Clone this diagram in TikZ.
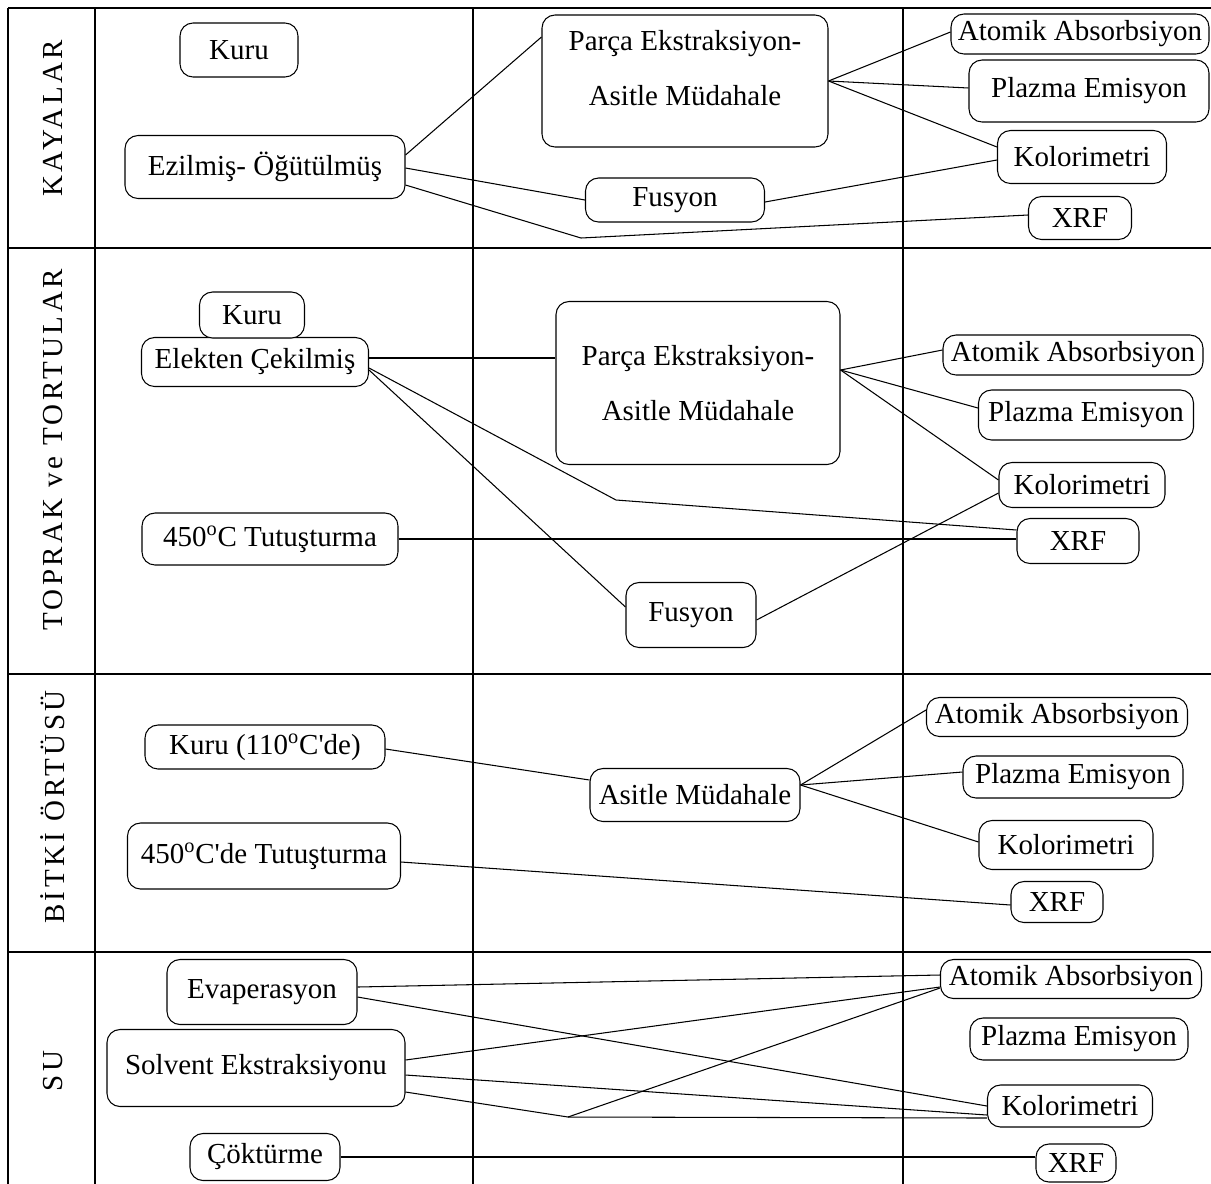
\documentclass[tikz,border=0pt]{standalone}
\usepackage{fontspec}
\setmainfont{Liberation Serif}
\newfontfamily\spacedfont[LetterSpace=12]{Liberation Serif}
\usetikzlibrary{calc}

\begin{document}
\begin{tikzpicture}[x=0.2mm, y=-0.2mm,
  grid/.style={line width=1.4pt},
  link/.style={line width=0.6pt},
  box/.style={draw, line width=0.6pt, rounded corners=2.6mm, fill=white,
    inner sep=0pt, font=\fontsize{16.5}{20}\selectfont},
  wh/.style 2 args={minimum width=#1*0.2mm, minimum height=#2*0.2mm},
  rowlabel/.style={rotate=90, font=\spacedfont\fontsize{16.5}{20}\selectfont}]

\useasboundingbox (0,0) rectangle (1211,1183);
\clip (0,0) rectangle (1211,1183);

% table
\foreach \y in {8, 248, 674, 952}
  \draw[grid] (8,\y) -- (1220,\y);
\foreach \x in {8, 95, 473, 903}
  \draw[grid] (\x,8) -- (\x,1190);

\node[rowlabel] (kayalar) at (53,118)  {KAYALAR};
\node[rowlabel] (toprak)  at (53,450)  {TOPRAK ve TORTULAR};
\node[rowlabel] (bitki)   at (53,807)  {BİTKİ ÖRTÜSÜ};
\node[rowlabel] (su)      at (53,1071) {SU};

% kayalar
\node[box, wh={118}{54}]  (k1kuru) at (239,50)  {Kuru};
\node[box, wh={280}{63}]  (k1ezil) at (265,167) {Ezilmiş- Öğütülmüş};
\node[box, wh={286}{132}, align=center, font=\fontsize{16.5}{31}\selectfont]
  (k1parca) at (685,81) {Parça Ekstraksiyon-\\Asitle Müdahale\rule[-15pt]{0pt}{0pt}};
\node[box, wh={179}{44}]  (k1fus)  at (675,200)  {Fusyon};
\node[box, wh={258}{40}]  (k1aas)  at (1080,34)  {Atomik Absorbsiyon};
\node[box, wh={240}{62}]  (k1pla)  at (1089,91)  {Plazma Emisyon};
\node[box, wh={169}{53}]  (k1kol)  at (1082,157) {Kolorimetri};
\node[box, wh={103}{43}]  (k1xrf)  at (1080,218) {XRF};

\coordinate (k1bend) at (581,238);
\draw[link] ($(k1ezil.east)+(0,-12)$) -- ($(k1parca.west)+(0,-44)$);
\draw[link] ($(k1ezil.east)+(0,1)$) -- (k1fus.west);
\draw[link] ($(k1ezil.east)+(0,18)$) -- (k1bend) -- ($(k1xrf.west)+(0,-3)$);
\draw[link] (k1parca.east) -- ($(k1aas.west)+(0,-2)$);
\draw[link] (k1parca.east) -- ($(k1pla.west)+(0,-3)$);
\draw[link] (k1parca.east) -- ($(k1kol.west)+(0,-10)$);
\draw[link] ($(k1fus.east)+(0,2)$) -- ($(k1kol.west)+(0,3)$);

% toprak ve tortular
\node[box, wh={227}{49}]  (t2elek) at (255,362) {Elekten Çekilmiş};
\node[box, wh={105}{46}]  (t2kuru) at (252,315) {Kuru};
\node[box, wh={256}{52}]  (t2tut)  at (270,539) {450\textsuperscript{o}C Tutuşturma};
\node[box, wh={284}{163}, align=center, font=\fontsize{16.5}{31}\selectfont]
  (t2parca) at (698,383) {Parça Ekstraksiyon-\\Asitle Müdahale};
\node[box, wh={130}{65}]  (t2fus)  at (691,615)  {Fusyon};
\node[box, wh={260}{40}]  (t2aas)  at (1073,355) {Atomik Absorbsiyon};
\node[box, wh={215}{50}]  (t2pla)  at (1086,415) {Plazma Emisyon};
\node[box, wh={166}{45}]  (t2kol)  at (1082,485) {Kolorimetri};
\node[box, wh={122}{45}]  (t2xrf)  at (1078,541) {XRF};

\coordinate (t2bend) at (616,500);
\draw[link] ($(t2elek.east)+(0,-4)$) -- ($(t2parca.west)+(0,-25)$);
\draw[link] ($(t2elek.east)+(0,6)$) -- (t2bend) -- ($(t2xrf.west)+(0,-11)$);
\draw[link] ($(t2elek.east)+(0,8)$) -- ($(t2fus.west)+(0,-8)$);
\draw[link] (t2tut.east) -- (t2tut.east -| t2xrf.west);
\draw[link] ($(t2parca.east)+(0,-13)$) -- ($(t2aas.west)+(0,-5)$);
\draw[link] ($(t2parca.east)+(0,-13)$) -- ($(t2pla.west)+(0,-7)$);
\draw[link] ($(t2parca.east)+(0,-13)$) -- ($(t2kol.west)+(0,-5)$);
\draw[link] ($(t2fus.east)+(0,5)$) -- ($(t2kol.west)+(0,8)$);

% bitki ortusu
\node[box, wh={240}{44}]  (b3kuru) at (265,747) {Kuru (110\textsuperscript{o}C\textquotesingle de)};
\node[box, wh={273}{66}]  (b3tut)  at (264,856) {450\textsuperscript{o}C\textquotesingle de Tutuşturma};
\node[box, wh={210}{53}]  (b3asit) at (695,795) {Asitle Müdahale};
\node[box, wh={261}{39}]  (b3aas)  at (1057,717) {Atomik Absorbsiyon};
\node[box, wh={220}{42}]  (b3pla)  at (1073,777) {Plazma Emisyon};
\node[box, wh={174}{49}]  (b3kol)  at (1066,845) {Kolorimetri};
\node[box, wh={92}{41}]   (b3xrf)  at (1057,902) {XRF};

\draw[link] ($(b3kuru.east)+(0,2)$) -- ($(b3asit.west)+(0,-15)$);
\draw[link] ($(b3tut.east)+(0,6)$) -- ($(b3xrf.west)+(0,3)$);
\draw[link] ($(b3asit.east)+(0,-10)$) -- ($(b3aas.west)+(0,-7)$);
\draw[link] ($(b3asit.east)+(0,-10)$) -- ($(b3pla.west)+(0,-5)$);
\draw[link] ($(b3asit.east)+(0,-10)$) -- ($(b3kol.west)+(0,-3)$);

% su
\node[box, wh={190}{65}]  (s4eva)  at (262,992)  {Evaperasyon};
\node[box, wh={298}{77}]  (s4solv) at (256,1068) {Solvent Ekstraksiyonu};
\node[box, wh={150}{47}]  (s4cok)  at (265,1157) {Çöktürme};
\node[box, wh={261}{39}]  (s4aas)  at (1071,979)  {Atomik Absorbsiyon};
\node[box, wh={218}{42}]  (s4pla)  at (1079,1039) {Plazma Emisyon};
\node[box, wh={165}{42}]  (s4kol)  at (1070,1106) {Kolorimetri};
\node[box, wh={80}{38}]   (s4xrf)  at (1076,1163) {XRF};

\coordinate (s4bend) at (568,1117);
\draw[link] ($(s4eva.east)+(0,-5)$) -- ($(s4aas.west)+(0,-4)$);
\draw[link] ($(s4eva.east)+(0,5)$) -- (s4kol.west);
\draw[link] ($(s4solv.east)+(0,-8)$) -- ($(s4aas.west)+(0,8)$);
\draw[link] ($(s4solv.east)+(0,7)$) -- ($(s4kol.west)+(0,9)$);
\draw[link] ($(s4solv.east)+(0,24)$) -- (s4bend) -- ($(s4aas.west)+(0,9)$);
\draw[link] (s4bend) -- ($(s4kol.west)+(0,12)$);
\draw[link] (s4cok.east) -- (s4cok.east -| s4xrf.west);

\end{tikzpicture}
\end{document}
